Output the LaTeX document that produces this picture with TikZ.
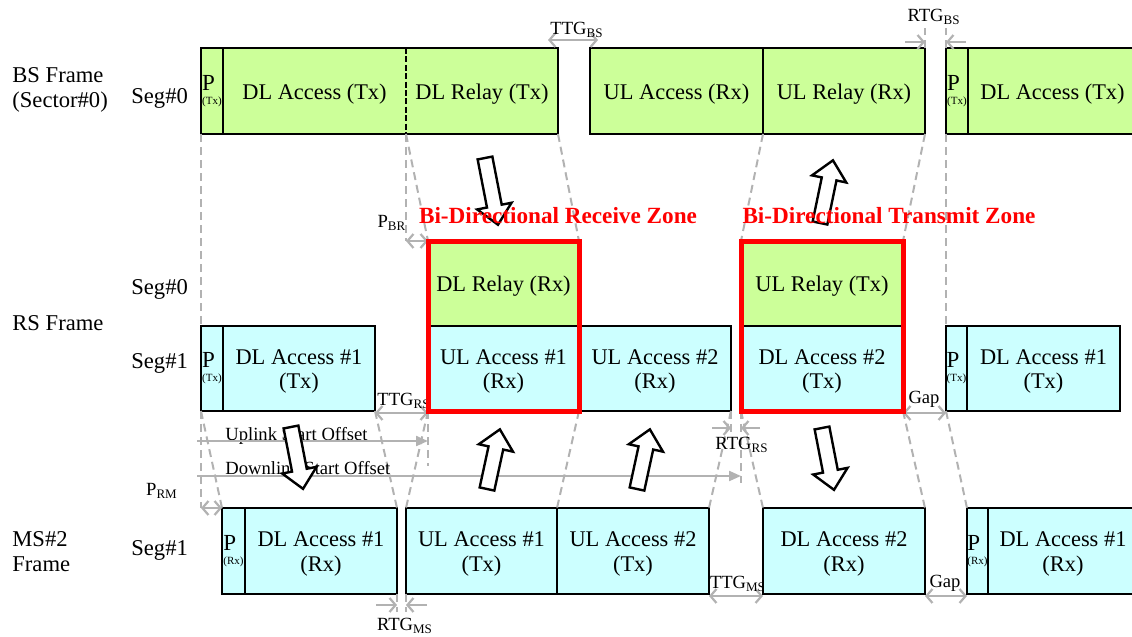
\documentclass[tikz,border=0pt]{standalone}
\usepackage{fontspec}
\setmainfont{Liberation Serif}
\usetikzlibrary{arrows.meta,fit}
\definecolor{grn}{RGB}{204,255,153}
\definecolor{cyn}{RGB}{204,255,255}
\definecolor{gry}{RGB}{178,178,178}
\definecolor{zred}{RGB}{255,0,0}
\newcommand\blkarrow[4]{%
  \begin{scope}[shift={(#1,#2)},rotate=#3]
    \draw[blockarrow] (0,-7.5) -- (#4-19,-7.5) -- (#4-19,-17.5) -- (#4,0) -- (#4-19,17.5) -- (#4-19,7.5) -- (0,7.5) -- cycle;
  \end{scope}}
% \tbox{style}{x1}{y1}{x2}{y2}{name}{text}
\newcommand\tbox[7]{%
  \node[#1, minimum width={(#4-#2)*0.5pt}, minimum height={(#5-#3)*0.5pt}] (#6) at ({(#2+#4)/2},{(#3+#5)/2}) {};
  \node[boxtxt] (#6t) at ([shift={(0,3)}]#6.center) {#7};}
\tikzset{
  box/.style={draw=black, line width=1pt, inner sep=0pt, outer sep=0pt},
  gbox/.style={box, fill=grn},
  cbox/.style={box, fill=cyn},
  boxtxt/.style={inner sep=0pt, align=center, font=\fontsize{11.2}{12.2}\selectfont},
  ptxt/.style={inner sep=0pt, align=left, font=\fontsize{5.5}{7}\selectfont},
  fillonly/.style={inner sep=0pt, outer sep=0pt},
  boxline/.style={draw=black, line width=1pt},
  gdash/.style={draw=gry, line width=1pt, dash pattern=on 4pt off 2.5pt},
  garr/.style={draw=gry, line width=1.1pt, {Straight Barb[length=3pt,width=7pt]}-{Straight Barb[length=3pt,width=7pt]}},
  garrone/.style={draw=gry, line width=1.1pt, -{Straight Barb[length=3pt,width=7pt]}},
  garrfill/.style={draw=gry, line width=1.1pt, -{Triangle[length=6pt,width=5pt]}},
  smalltxt/.style={inner sep=0pt, font=\fontsize{9.3}{10}\selectfont},
  lbl/.style={inner sep=0pt, anchor=west, align=left, font=\fontsize{11.3}{12.5}\selectfont},
  redframe/.style={draw=zred, line width=2.5pt, inner sep=0pt},
  zonetxt/.style={inner sep=0pt, text=zred, font=\bfseries\fontsize{11.6}{12}\selectfont},
  blockarrow/.style={draw=black, line width=1.2pt, fill=white, line join=miter}
}
\newcommand\pbox[6]{%
  \node[#1, minimum width={(#4-#2)*0.5pt}, minimum height={(#5-#3)*0.5pt}] (#6) at ({(#2+#4)/2},{(#3+#5)/2}) {};}
\begin{document}
\begin{tikzpicture}[x=0.5pt,y=-0.5pt]
\useasboundingbox (0,0) rectangle (1132,637);

% ---------- left labels ----------
\node[lbl] (bsf) at (12,90) {BS Frame\\(Sector\#0)};
\node[lbl] (bsseg) at (131,98) {Seg\#0};
\node[lbl] (rsf) at (12,323) {RS Frame};
\node[lbl] (rsseg0) at (131,289) {Seg\#0};
\node[lbl] (rsseg1) at (131,363) {Seg\#1};
\node[lbl] (msf) at (12,552) {MS\#2\\Frame};
\node[lbl] (msseg) at (131,550) {Seg\#1};

% ---------- BS frame ----------
\pbox{gbox}{201}{48}{223}{134}{bp1}
\node[ptxt] (bp1t) at (bp1.center) {{\fontsize{11.5}{12}\selectfont P}\\(Tx)};
\pbox{fillonly,fill=grn}{223}{48}{406}{134}{bdla}
\node[boxtxt] (bdlat) at ([shift={(0,3)}]bdla.center) {DL Access (Tx)};
\pbox{fillonly,fill=grn}{406}{48}{558}{134}{bdlr}
\node[boxtxt] (bdlrt) at ([shift={(0,3)}]bdlr.center) {DL Relay (Tx)};
\draw[boxline] (bdla.north west) rectangle (bdlr.south east);
\draw[black, line width=1pt, dash pattern=on 3pt off 1.2pt] (bdla.north east) -- (bdla.south east);
\tbox{gbox}{590}{48}{763}{134}{bula}{UL Access (Rx)}
\tbox{gbox}{763}{48}{925}{134}{bulr}{UL Relay (Rx)}
\pbox{gbox}{946}{48}{968}{134}{bp2}
\node[ptxt] (bp2t) at (bp2.center) {{\fontsize{11.5}{12}\selectfont P}\\(Tx)};
\tbox{gbox}{968}{48}{1137}{134}{bdla2}{DL Access (Tx)}

% ---------- RS frame ----------
\pbox{cbox}{201}{326}{223}{411}{rp1}
\node[ptxt] (rp1t) at (rp1.center) {{\fontsize{11.5}{12}\selectfont P}\\(Tx)};
\tbox{cbox}{223}{326}{375}{411}{rdla1}{DL Access \#1\\(Tx)}
\tbox{gbox}{428}{241}{579}{326}{rdlr}{DL Relay (Rx)}
\tbox{cbox}{428}{326}{579}{411}{rula1}{UL Access \#1\\(Rx)}
\tbox{cbox}{579}{326}{731}{411}{rula2}{UL Access \#2\\(Rx)}
\tbox{gbox}{741}{241}{903}{326}{rulr}{UL Relay (Tx)}
\tbox{cbox}{741}{326}{903}{411}{rdla2}{DL Access \#2\\(Tx)}
\pbox{cbox}{946}{326}{967}{411}{rp2}
\node[ptxt] (rp2t) at (rp2.center) {{\fontsize{11.5}{12}\selectfont P}\\(Tx)};
\tbox{cbox}{967}{326}{1120}{411}{rdla3}{DL Access \#1\\(Tx)}

% ---------- MS frame ----------
\pbox{cbox}{222}{508}{245}{594}{mp1}
\node[ptxt] (mp1t) at (mp1.center) {{\fontsize{11.5}{12}\selectfont P}\\(Rx)};
\tbox{cbox}{245}{508}{397}{594}{mdla1}{DL Access \#1\\(Rx)}
\tbox{cbox}{406}{508}{557}{594}{mula1}{UL Access \#1\\(Tx)}
\tbox{cbox}{557}{508}{709}{594}{mula2}{UL Access \#2\\(Tx)}
\tbox{cbox}{763}{508}{925}{594}{mdla2}{DL Access \#2\\(Rx)}
\pbox{cbox}{967}{508}{988}{594}{mp2}
\node[ptxt] (mp2t) at (mp2.center) {{\fontsize{11.5}{12}\selectfont P}\\(Rx)};
\tbox{cbox}{988}{508}{1138}{594}{mdla3}{DL Access \#1\\(Rx)}

% ---------- dashed guide lines BS -> RS ----------
\draw[gdash] (bp1.south west) -- (rp1.north west);
\draw[gdash] (bdlr.south west) -- (bdlr.south west |- rdlr.north);
\draw[gdash] (bdlr.south west) -- (rdlr.north west);
\draw[gdash] (bdlr.south east) -- (rdlr.north east);
\draw[gdash] (bulr.south west) -- (rulr.north west);
\draw[gdash] (bulr.south east) -- (rulr.north east);
\draw[gdash] (bp2.south west) -- (rp2.north west);
\draw[gdash] (bulr.north east) -- ++(0,-20);
\draw[gdash] (bp2.north west) -- ++(0,-20);

% ---------- dashed guide lines RS -> MS ----------
\draw[gdash] (rp1.south west) -- (rp1.south west |- mp1.north);
\draw[gdash] (rp1.south west) -- (mp1.north west);
\draw[gdash] (rdla1.south east) -- (mdla1.north east);
\draw[gdash] (rula1.south west) -- (mula1.north west);
\draw[gdash] (rula1.south west) -- ++(0,55);
\draw[gdash] (rula1.south east) -- (mula2.north west);
\draw[gdash] (rula2.south east) -- (mula2.north east);
\draw[gdash] (rula2.south east) -- ++(0,22);
\draw[gdash] (rdla2.south west) -- (mdla2.north west);
\draw[gdash] (rdla2.south west) -- ++(0,72);
\draw[gdash] (rdla2.south east) -- (mdla2.north east);
\draw[gdash] (rp2.south west) -- (mp2.north west);
\draw[gdash] (mdla1.south east) -- ++(0,18);
\draw[gdash] (mula1.south west) -- ++(0,18);

% ---------- gray dimension arrows ----------
\draw[garr] ([shift={(-10,-8)}]bdlr.north east) -- ([shift={(8,-8)}]bula.north west);
\node[smalltxt] (ttgbs) at (577,30) {TTG\textsubscript{BS}};
\draw[garrone] ([shift={(-20,-6)}]bulr.north east) -- ([shift={(0,-6)}]bulr.north east);
\draw[garrone] ([shift={(20,-6)}]bp2.north west) -- ([shift={(0,-6)}]bp2.north west);
\node[smalltxt] (rtgbs) at (934,17) {RTG\textsubscript{BS}};

\draw[garr] (bdlr.south west |- rdlr.north) -- (rdlr.north west);
\node[smalltxt] (pbr) at (392,223) {P\textsubscript{BR}};

\draw[garr] ([shift={(0,2)}]rdla1.south east) -- ([shift={(0,2)}]rula1.south west);
\node[smalltxt] (ttgrs) at (404,401) {TTG\textsubscript{RS}};
\draw[garrone] ([shift={(-19,17)}]rula2.south east) -- ([shift={(0,17)}]rula2.south east);
\draw[garrone] ([shift={(19,17)}]rdla2.south west) -- ([shift={(0,17)}]rdla2.south west);
\node[smalltxt] (rtgrs) at (742,445) {RTG\textsubscript{RS}};
\draw[garr] ([shift={(0,2)}]rdla2.south east) -- ([shift={(0,2)}]rp2.south west);
\node[smalltxt] (gaprs) at (924,399) {Gap};

\coordinate (uso) at (197,441);
\coordinate (dso) at (197,476);
\node[smalltxt, anchor=west] (usotxt) at (225,436) {Uplink Start Offset};
\node[smalltxt, anchor=west] (dsotxt) at (225,468) {Downlink Start Offset};
\draw[garrfill] (uso) -- (uso -| rula1.west);
\draw[garrfill] (dso) -- (dso -| rdla2.west);

\draw[garr] (rp1.south west |- mp1.north) -- (mp1.north west);
\node[smalltxt] (prm) at (162,491) {P\textsubscript{RM}};

\draw[garr] ([shift={(0,2)}]mula2.south east) -- ([shift={(0,2)}]mdla2.south west);
\node[smalltxt] (ttgms) at (738,584) {TTG\textsubscript{MS}};
\draw[garr] ([shift={(0,2)}]mdla2.south east) -- ([shift={(0,2)}]mp2.south west);
\node[smalltxt] (gapms) at (945,583) {Gap};
\draw[garrone] ([shift={(-21,11)}]mdla1.south east) -- ([shift={(0,11)}]mdla1.south east);
\draw[garrone] ([shift={(21,11)}]mula1.south west) -- ([shift={(0,11)}]mula1.south west);
\node[smalltxt] (rtgms) at (405,626) {RTG\textsubscript{MS}};

% ---------- zones ----------
\node[redframe, fit=(rdlr) (rula1)] (zone1) {};
\node[redframe, fit=(rulr) (rdla2)] (zone2) {};

% ---------- block arrows ----------
\blkarrow{485}{158}{-79}{68}
\blkarrow{820}{223}{78.3}{64}
\blkarrow{291}{427}{-79}{63}
\blkarrow{487}{489}{77.8}{61}
\blkarrow{637}{489}{77.8}{61}
\blkarrow{822}{428}{-79}{63}

\node[zonetxt] (z1txt) at (558,216) {Bi-Directional Receive Zone};
\node[zonetxt] (z2txt) at (889,216) {Bi-Directional Transmit Zone};
\end{tikzpicture}
\end{document}
